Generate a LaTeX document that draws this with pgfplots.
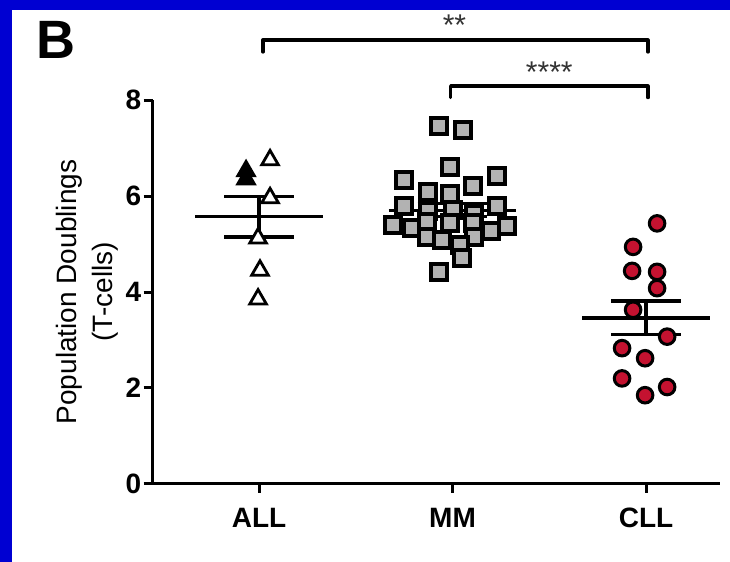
\documentclass[border=0pt]{standalone}
\usepackage{pgfplots}
\pgfplotsset{compat=1.18}
\usepackage{fontspec}
\setmainfont{Liberation Sans}

\definecolor{frameblue}{RGB}{0,0,210}
\definecolor{mmgray}{RGB}{178,178,178}
\definecolor{cllred}{RGB}{196,18,48}

\begin{document}
\begin{tikzpicture}
% panel background with blue frame on top and left
\fill[frameblue] (0,0) rectangle (365pt,281pt);
\fill[white] (6pt,0) rectangle (365pt,276pt);
% panel letter
\node[font=\fontsize{27}{30}\selectfont\bfseries, inner sep=0pt] at (28pt,261pt) {B};

\begin{axis}[
  at={(76.3pt,39pt)}, anchor=south west,
  scale only axis, width=283.5pt, height=192pt,
  xmin=-0.55, xmax=2.38, ymin=0, ymax=8,
  axis x line*=bottom, axis y line*=left,
  axis line style={line width=1.5pt, -},
  xtick={0,1,2}, xticklabels={ALL,MM,CLL},
  ytick={0,2,4,6,8},
  tick style={line width=1.5pt, black},
  tick align=outside, major tick length=4.5pt,
  tick label style={font=\fontsize{14}{16}\selectfont\bfseries},
  /pgf/number format/assume math mode=true,
  yticklabel style={inner sep=1pt},
  xticklabel style={yshift=-4pt},
  ylabel={Population Doublings\\(T-cells)},
  ylabel style={align=center, font=\fontsize{14}{18}\selectfont,
    at={(axis description cs:-0.115,0.5)}, anchor=center},
  clip=false,
]

% mean and SEM, ALL
\addplot[black, line width=1.8pt] coordinates {(-0.33,5.571) (0.33,5.571)};
\addplot[black, line width=1.8pt] coordinates {(-0.18,5.993) (0.18,5.993)};
\addplot[black, line width=1.8pt] coordinates {(-0.18,5.149) (0.18,5.149)};
\addplot[black, line width=1.8pt] coordinates {(0,5.149) (0,5.993)};
% mean and SEM, CLL
\addplot[black, line width=1.8pt] coordinates {(1.67,3.461) (2.33,3.461)};
\addplot[black, line width=1.8pt] coordinates {(1.82,3.808) (2.18,3.808)};
\addplot[black, line width=1.8pt] coordinates {(1.82,3.114) (2.18,3.114)};
\addplot[black, line width=1.8pt] coordinates {(2,3.114) (2,3.808)};

% ALL
\addplot[only marks, mark=triangle*, mark size=4.8pt,
  mark options={draw=black, fill=white, line width=1.4pt}] coordinates {
  (0.057,6.75) (0.057,5.96) (-0.005,5.12) (0.005,4.45) (-0.005,3.85)};
\addplot[only marks, mark=triangle*, mark size=4.8pt,
  mark options={draw=black, fill=black, line width=1.4pt}] coordinates {
  (-0.067,6.52) (-0.067,6.35)};

% MM
\addplot[only marks, mark=square*, mark size=4pt,
  mark options={draw=black, fill=mmgray, line width=2pt}] coordinates {
  (0.930,7.45) (1.054,7.38) (0.987,6.60) (0.750,6.33) (1.230,6.42)
  (1.106,6.20) (0.873,6.08) (0.987,6.05) (0.750,5.80) (1.230,5.80)
  (0.873,5.68) (1.000,5.70) (1.110,5.62) (0.690,5.40) (0.790,5.33)
  (0.870,5.45) (0.987,5.44) (1.106,5.44) (1.200,5.28) (1.280,5.38)
  (0.870,5.15) (0.945,5.08) (1.110,5.15) (1.040,4.98) (1.050,4.71)
  (0.930,4.42)};
% mean and SEM, MM (drawn over the squares)
\addplot[black, line width=1.6pt] coordinates {(0.67,5.705) (1.33,5.705)};
\addplot[black, line width=1.6pt] coordinates {(0.82,5.84) (1.18,5.84)};
\addplot[black, line width=1.6pt] coordinates {(0.82,5.57) (1.18,5.57)};
\addplot[black, line width=1.6pt] coordinates {(1,5.57) (1,5.84)};

% CLL
\addplot[only marks, mark=*, mark size=3.9pt,
  mark options={draw=black, fill=cllred, line width=1.5pt}] coordinates {
  (2.057,5.43) (1.933,4.94) (1.928,4.44) (2.057,4.42) (2.057,4.08)
  (1.933,3.63) (2.109,3.07) (1.876,2.83) (1.995,2.62) (1.876,2.20)
  (2.109,2.02) (1.995,1.85)};

% significance brackets
\draw[line width=1.6pt, line cap=round, line join=round]
  (axis cs:0.02,9.0) -- (axis cs:0.02,9.25) -- (axis cs:2.01,9.25) -- (axis cs:2.01,9.0);
\draw[line width=1.6pt, line cap=round, line join=round]
  (axis cs:0.99,8.05) -- (axis cs:0.99,8.29) -- (axis cs:2.01,8.29) -- (axis cs:2.01,8.05);
\node[font=\fontsize{15}{16}\selectfont, text=black!80] at (axis cs:1.01,9.55) {**};
\node[font=\fontsize{15}{16}\selectfont, text=black!80] at (axis cs:1.50,8.57) {****};
\end{axis}
\end{tikzpicture}
\end{document}
